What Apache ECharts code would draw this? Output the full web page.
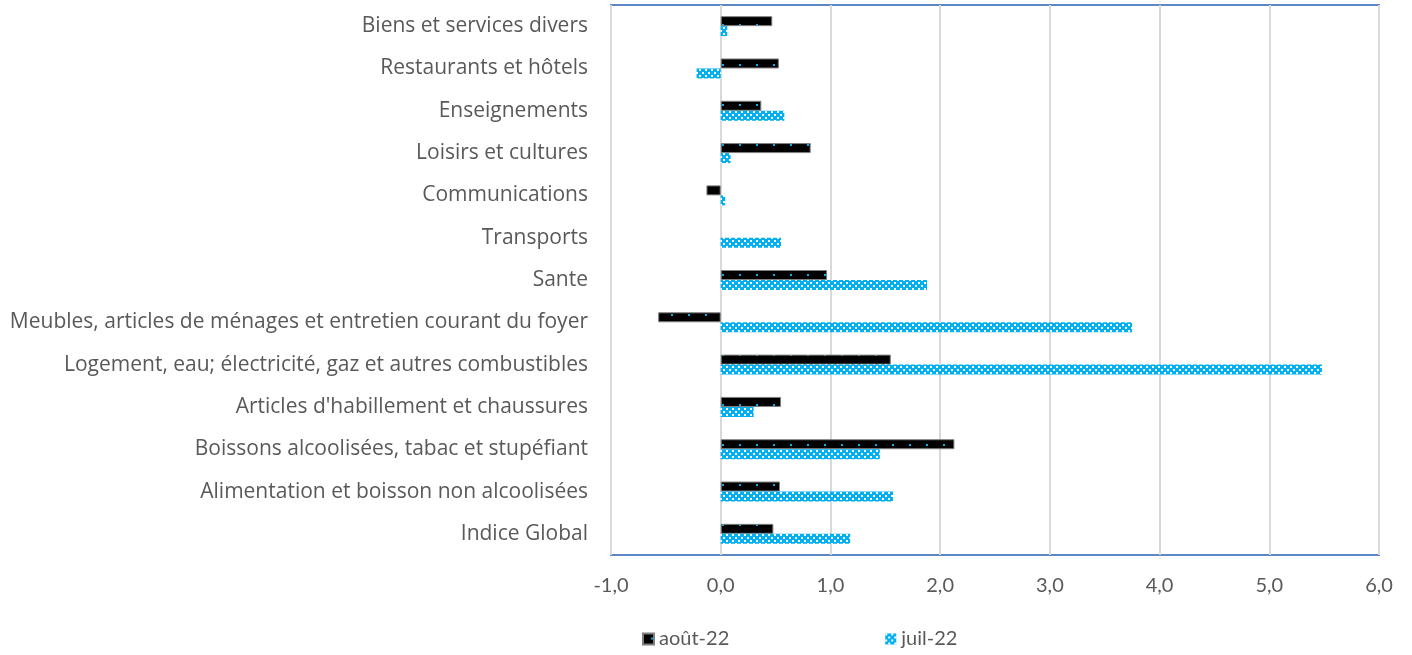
<!DOCTYPE html>
<html>
<head>
<meta charset="utf-8">
<script src="https://cdn.jsdelivr.net/npm/echarts@6/dist/echarts.min.js"></script>
<style>
  html, body { margin: 0; padding: 0; background: #fff; }
  #container { width: 1412px; height: 655px; }
</style>
</head>
<body>
<div id="container"></div>
<script>
// categories listed bottom to top, as the axis draws them
var categories = [
    'Indice Global',
    'Alimentation et boisson non alcoolisées',
    'Boissons alcoolisées, tabac et stupéfiant',
    "Articles d'habillement et chaussures",
    'Logement, eau; électricité, gaz et autres combustibles',
    'Meubles, articles de ménages et entretien courant du foyer',
    'Sante',
    'Transports',
    'Communications',
    'Loisirs et cultures',
    'Enseignements',
    'Restaurants et hôtels',
    'Biens et services divers'
];
var aout22 = [0.48, 0.54, 2.13, 0.55, 1.55, -0.57, 0.97, 0, -0.13, 0.82, 0.37, 0.53, 0.47];
var juil22 = [1.18, 1.57, 1.45, 0.30, 5.48, 3.75, 1.88, 0.55, 0.04, 0.09, 0.58, -0.22, 0.06];
var seriesNames = ['août-22', 'juil-22'];
var xTicks = [-1, 0, 1, 2, 3, 4, 5, 6];

document.addEventListener('DOMContentLoaded', function () {
    // black fill with small cyan dots
    function dotPattern() {
        var c = document.createElement('canvas');
        c.width = 17;
        c.height = 10;
        var ctx = c.getContext('2d');
        ctx.fillStyle = '#000000';
        ctx.fillRect(0, 0, 17, 10);
        ctx.fillStyle = '#00b0f0';
        ctx.fillRect(8, 4, 2, 2);
        return c;
    }
    // cyan checker
    function checkPattern() {
        var c = document.createElement('canvas');
        c.width = 6;
        c.height = 6;
        var ctx = c.getContext('2d');
        ctx.fillStyle = '#00b0f0';
        ctx.fillRect(0, 0, 6, 6);
        ctx.fillStyle = '#ffffff';
        ctx.fillRect(0, 0, 2, 2);
        ctx.fillRect(3, 3, 2, 2);
        return c;
    }

    var textColor = '#595959';
    var font = 'Lato, sans-serif';

    var chartDom = document.getElementById('container');
    var myChart = echarts.init(chartDom);
    var option;

    option = {
        animation: false,
        grid: {
            left: 611,
            right: 33,
            top: 5,
            bottom: 100,
            show: true,
            borderColor: '#5b87c4',
            borderWidth: 2
        },
        legend: {
            left: 637,
            top: 624,
            icon: 'rect',
            itemWidth: 11,
            itemHeight: 11,
            itemGap: 156,
            textStyle: {
                fontSize: 20,
                fontFamily: font,
                color: textColor
            },
            data: seriesNames
        },
        xAxis: {
            type: 'value',
            min: xTicks[0],
            max: xTicks[xTicks.length - 1],
            interval: 1,
            axisLine: { show: false },
            axisTick: { show: false },
            axisLabel: {
                margin: 21,
                fontSize: 20,
                fontFamily: font,
                color: textColor,
                formatter: function (v) {
                    return v.toFixed(1).replace('.', ',');
                }
            },
            splitLine: {
                lineStyle: { color: '#d9d9d9', width: 2 }
            }
        },
        yAxis: {
            type: 'category',
            data: categories,
            axisLine: { show: false },
            axisTick: { show: false },
            axisLabel: {
                margin: 23,
                fontSize: 21,
                fontFamily: '"Open Sans", sans-serif',
                color: textColor
            }
        },
        series: [
            {
                name: seriesNames[0],
                type: 'bar',
                barWidth: 10,
                barGap: '0%',
                data: aout22.map(function (v) {
                    return v === 0 ? { value: v, itemStyle: { borderWidth: 0 } } : v;
                }),
                itemStyle: {
                    color: { image: dotPattern(), repeat: 'repeat' },
                    borderColor: '#7f7f7f',
                    borderWidth: 1
                }
            },
            {
                name: seriesNames[1],
                type: 'bar',
                barWidth: 10,
                barGap: '0%',
                data: juil22,
                itemStyle: {
                    color: { image: checkPattern(), repeat: 'repeat' }
                }
            }
        ]
    };

    option && myChart.setOption(option);
});
</script>
</body>
</html>
